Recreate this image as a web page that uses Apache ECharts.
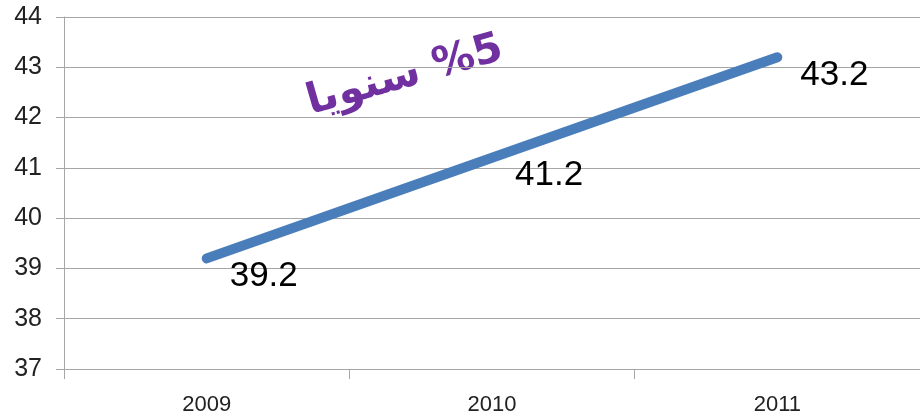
<!DOCTYPE html>
<html><head><meta charset="utf-8">
<script src="https://cdn.jsdelivr.net/npm/echarts@6/dist/echarts.min.js"></script>
<style>html,body{margin:0;padding:0;background:#fff}#c{width:920px;height:419px}</style>
</head><body><div id="c"></div>
<script>
const years = ['2009', '2010', '2011'];
const values = [39.2, 41.2, 43.2];
const yTicks = { min: 37, max: 44, interval: 1 };
const note = 'سنويا\u200E %5';

const chart = echarts.init(document.getElementById('c'), null, { renderer: 'canvas' });
chart.setOption({
  animation: false,
  backgroundColor: '#fff',
  grid: { left: 64, top: 17, width: 861, height: 352 },
  xAxis: {
    type: 'category', data: years, boundaryGap: true,
    axisLine: { lineStyle: { color: '#a6a6a6', width: 1 } },
    axisTick: { show: true, length: 10, lineStyle: { color: '#a6a6a6' } },
    axisLabel: { color: '#222', fontFamily: 'Liberation Sans', fontSize: 22, margin: 25 }
  },
  yAxis: {
    type: 'value', min: yTicks.min, max: yTicks.max, interval: yTicks.interval,
    axisLine: { show: true, lineStyle: { color: '#a6a6a6', width: 1 } },
    axisTick: { show: true, length: 8, lineStyle: { color: '#a6a6a6' } },
    splitLine: { lineStyle: { color: '#a6a6a6', width: 1 } },
    axisLabel: { color: '#222', fontFamily: 'Liberation Sans', fontSize: 25, margin: 22 }
  },
  series: [{
    type: 'line', data: values, symbol: 'circle', symbolSize: 2, showSymbol: true,
    itemStyle: { color: '#4a7ebb' },
    lineStyle: { color: '#4a7ebb', width: 10, cap: 'round' },
    label: {
      show: true, position: 'right', distance: 22, offset: [0, 18],
      color: '#000', fontFamily: 'Liberation Sans', fontSize: 35
    }
  }],
  graphic: [{
    type: 'text', x: 405, y: 76, rotation: 16 * Math.PI / 180,
    style: {
      text: note, fill: '#7030a0', font: 'bold 42px "DejaVu Sans"',
      align: 'center', verticalAlign: 'middle'
    }
  }]
});
</script></body></html>
